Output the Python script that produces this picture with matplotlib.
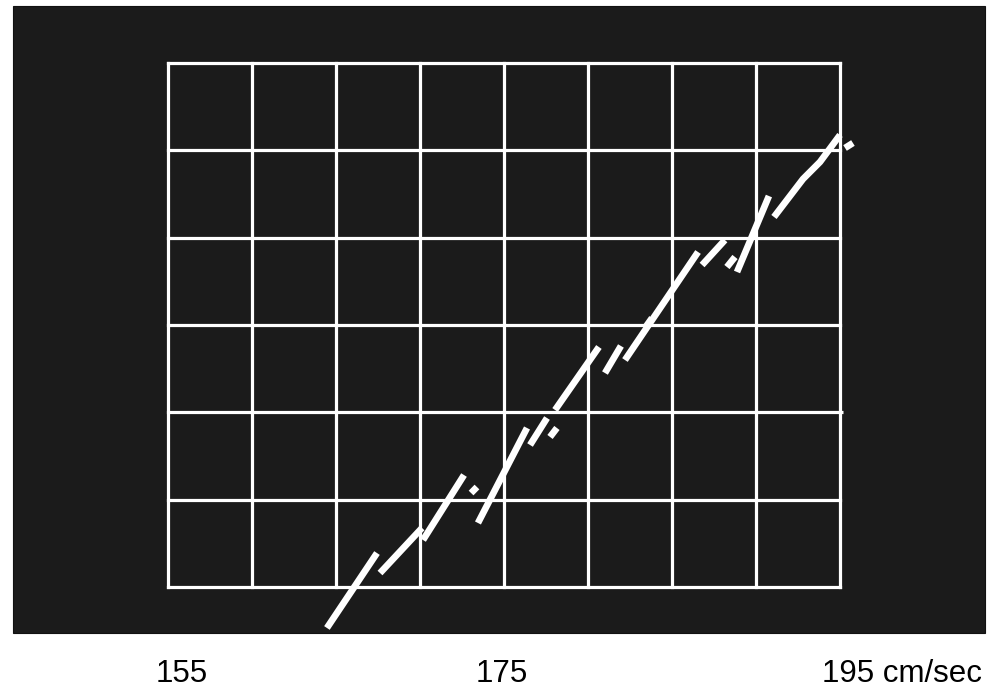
import numpy as np
import matplotlib
matplotlib.use("Agg")
import matplotlib.pyplot as plt
from matplotlib.patches import Rectangle
from matplotlib.transforms import blended_transform_factory, offset_copy

# ---- data (speed in cm/sec on x, arbitrary grid units on y) ----
x_min, x_max = 155, 195
y_min, y_max = 0, 6
x_grid_step = 5
y_grid_step = 1

# long-dash trace (NaN separates dashes)
trace1_x = [164.46, 167.44, np.nan,
            170.18, 172.62, np.nan,
            173.45, 176.37, np.nan,
            178.04, 180.65, np.nan,
            182.20, 186.55, np.nan,
            188.87, 190.77, np.nan,
            191.07, 192.80, 193.81, 195.00]
trace1_y = [-0.469, 0.389, np.nan,
            0.538, 1.282, np.nan,
            0.733, 1.821, np.nan,
            2.027, 2.748, np.nan,
            2.599, 3.836, np.nan,
            3.607, 4.477, np.nan,
            4.237, 4.672, 4.867, 5.176]

# short-dash trace
trace2_x = [167.62, 170.12, np.nan,
            173.04, 173.39, np.nan,
            176.55, 177.56, np.nan,
            177.74, 178.15, np.nan,
            181.01, 181.96, np.nan,
            183.39, 183.81, np.nan,
            186.79, 188.15, np.nan,
            188.27, 188.75, np.nan,
            195.30, 195.77]
trace2_y = [0.160, 0.676, np.nan,
            1.076, 1.145, np.nan,
            1.626, 1.935, np.nan,
            1.718, 1.821, np.nan,
            2.450, 2.760, np.nan,
            2.966, 3.080, np.nan,
            3.687, 3.973, np.nan,
            3.664, 3.779, np.nan,
            5.027, 5.084]

tick_values = [155, 175, 195]
tick_labels = ["155", "175", "195 cm/sec"]

# ---- figure ----
W, H = 998, 690
fig = plt.figure(figsize=(W / 100, H / 100), dpi=100)
fig.patch.set_facecolor("white")

panel_color = "#1b1b1b"
panel = Rectangle((13 / W, 1 - 633 / H), 972 / W, 627 / H,
                  transform=fig.transFigure, facecolor=panel_color,
                  edgecolor="#111111", linewidth=0.8, zorder=-5)
fig.patches.append(panel)

ax = fig.add_axes([168 / W, 1 - 587 / H, 672 / W, 524 / H])
ax.set_zorder(1)
ax.set_facecolor(panel_color)
ax.set_xlim(x_min, x_max)
ax.set_ylim(y_min, y_max)

grid_lw = 2.3
for xv in np.arange(x_min, x_max + 0.001, x_grid_step):
    ax.axvline(xv, color="white", lw=grid_lw, zorder=1, clip_on=False)
for yv in np.arange(y_min, y_max + 0.001, y_grid_step):
    ax.axhline(yv, color="white", lw=grid_lw, zorder=1, clip_on=False)
ax.plot([x_max, x_max + 0.18], [2, 2], color="white", lw=grid_lw, clip_on=False,
        solid_capstyle="butt")

for s in ax.spines.values():
    s.set_visible(False)
ax.set_xticks([])
ax.set_yticks([])

ax.plot(trace1_x, trace1_y, color="white", lw=4.8, solid_capstyle="butt",
        solid_joinstyle="round", clip_on=False, zorder=3)
ax.plot(trace2_x, trace2_y, color="white", lw=4.8, solid_capstyle="butt",
        clip_on=False, zorder=3)

# labels below the panel
trans = blended_transform_factory(ax.transData, fig.transFigure)
label_y = 1 - 682 / H
offsets = [(14, "center"), (-2, "center"), (-18, "left")]
for v, lab, (dx, ha) in zip(tick_values, tick_labels, offsets):
    t = offset_copy(trans, fig=fig, x=dx, y=0, units="dots")
    ax.text(v, label_y, lab, transform=t, ha=ha, va="baseline",
            fontsize=22.5, family=["Liberation Sans", "DejaVu Sans"], color="black")

fig.savefig("out.png", dpi=100, facecolor="white")
